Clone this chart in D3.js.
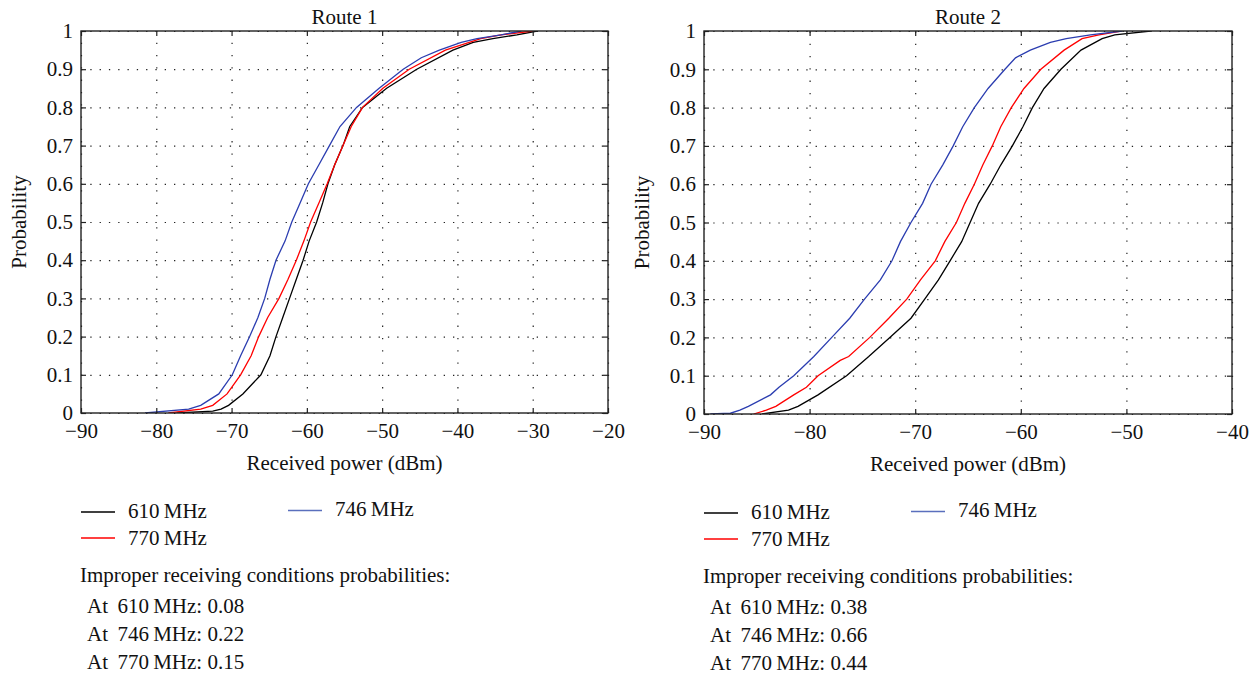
<!DOCTYPE html>
<html>
<head>
<meta charset="utf-8">
<script src="https://cdn.jsdelivr.net/npm/d3@7"></script>
<style>
  body { margin: 0; background: #fff; }
  svg text { font-family: "Liberation Serif", "DejaVu Serif", serif; fill: #111; }
</style>
</head>
<body>
<svg id="chart" width="1258" height="675"></svg>
<script>
// CDF curves: [received power dBm, probability]
var route1_610 = [[-77.3,0],[-72.5,0.005],[-71.4,0.01],[-70.4,0.02],[-68.5,0.05],[-66.1,0.1],[-64.9,0.15],[-64.1,0.2],[-63.2,0.25],[-62.3,0.3],[-61.4,0.35],[-60.5,0.4],[-59.7,0.45],[-58.7,0.5],[-57.9,0.55],[-57.2,0.6],[-56.3,0.65],[-55.2,0.7],[-54.3,0.75],[-52.6,0.8],[-49.4,0.85],[-45.4,0.9],[-40.6,0.95],[-37.9,0.97],[-35.3,0.98],[-32.1,0.99],[-29.4,1]];
var route1_746 = [[-81.5,0],[-75.7,0.01],[-74.1,0.02],[-71.7,0.05],[-69.9,0.1],[-68.8,0.15],[-67.6,0.2],[-66.5,0.25],[-65.6,0.3],[-64.9,0.35],[-64.1,0.4],[-62.9,0.45],[-62.0,0.5],[-60.9,0.55],[-59.8,0.6],[-58.4,0.65],[-57.0,0.7],[-55.6,0.75],[-53.4,0.8],[-50.4,0.85],[-47.2,0.9],[-44.8,0.93],[-42.4,0.95],[-39.5,0.97],[-37.4,0.98],[-34.2,0.99],[-31.5,1]];
var route1_770 = [[-78.4,0],[-74.1,0.01],[-72.5,0.02],[-70.6,0.05],[-68.8,0.1],[-67.4,0.15],[-66.4,0.2],[-65.2,0.25],[-63.7,0.3],[-62.5,0.35],[-61.4,0.4],[-60.4,0.45],[-59.5,0.5],[-58.4,0.55],[-57.3,0.6],[-56.3,0.65],[-55.2,0.7],[-54.1,0.75],[-52.6,0.8],[-49.9,0.85],[-46.4,0.9],[-41.6,0.95],[-36.9,0.98],[-34.2,0.99],[-30.0,1]];

var route2_610 = [[-84.5,0],[-82.0,0.01],[-81.1,0.02],[-79.2,0.05],[-76.5,0.1],[-74.4,0.15],[-72.4,0.2],[-70.4,0.25],[-69.1,0.3],[-67.8,0.35],[-66.7,0.4],[-65.6,0.45],[-64.8,0.5],[-64.0,0.55],[-62.9,0.6],[-61.9,0.65],[-60.8,0.7],[-59.8,0.75],[-58.9,0.8],[-57.8,0.85],[-56.2,0.9],[-54.3,0.95],[-52.3,0.98],[-51.1,0.99],[-47.7,1]];
var route2_746 = [[-89.4,0],[-87.5,0.002],[-86.6,0.01],[-85.8,0.02],[-83.7,0.05],[-82.9,0.07],[-81.5,0.1],[-79.6,0.15],[-77.9,0.2],[-76.2,0.25],[-74.8,0.3],[-73.3,0.35],[-72.2,0.4],[-71.4,0.45],[-70.4,0.5],[-69.3,0.55],[-68.5,0.6],[-67.4,0.65],[-66.4,0.7],[-65.5,0.75],[-64.4,0.8],[-63.1,0.85],[-61.5,0.9],[-60.5,0.93],[-59.1,0.95],[-57.2,0.97],[-55.7,0.98],[-53.4,0.99],[-50.4,1]];
var route2_770 = [[-85.3,0],[-84.1,0.01],[-83.2,0.02],[-81.5,0.05],[-80.3,0.07],[-79.2,0.1],[-77.1,0.14],[-76.3,0.15],[-74.3,0.2],[-72.5,0.25],[-70.8,0.3],[-69.5,0.35],[-68.1,0.4],[-67.2,0.45],[-66.1,0.5],[-65.3,0.55],[-64.4,0.6],[-63.6,0.65],[-62.7,0.7],[-61.9,0.75],[-60.9,0.8],[-59.7,0.85],[-58.1,0.9],[-55.9,0.95],[-54.2,0.98],[-52.6,0.99],[-50.5,1]];

var legendLabels = ['610\u2009MHz', '770\u2009MHz', '746\u2009MHz'];
var probFreqs = ['610', '746', '770'];
var improper1 = [0.08, 0.22, 0.15];
var improper2 = [0.38, 0.66, 0.44];
var yTicks = [0, 0.1, 0.2, 0.3, 0.4, 0.5, 0.6, 0.7, 0.8, 0.9, 1];

var colors = { k: '#000000', r: '#ff0000', b: '#2b3db0', bLegend: '#5a6fbd' };
var fs = 21;

var svg = d3.select('#chart');

function drawPanel(p) {
    var w = p.right - p.left, h = p.bottom - p.top;
    var x = d3.scaleLinear().domain(p.xDomain).range([0, w]);
    var y = d3.scaleLinear().domain([0, 1]).range([h, 0]);

    var g = svg.append('g').attr('transform', `translate(${p.left},${p.top})`);

    // сетка
    g.append('g').attr('class', 'grid')
        .attr('transform', `translate(0,${h})`)
        .call(d3.axisBottom(x).ticks(p.xTicks).tickSize(-h).tickFormat(''))
        .call(s => s.select('.domain').remove())
        .selectAll('line').attr('stroke', '#222').attr('stroke-width', 1.2).attr('stroke-dasharray', '1.3,11');
    g.append('g').attr('class', 'grid')
        .call(d3.axisLeft(y).tickValues(yTicks).tickSize(-w).tickFormat(''))
        .call(s => s.select('.domain').remove())
        .selectAll('line').attr('stroke', '#222').attr('stroke-width', 1.2).attr('stroke-dasharray', '1.3,8');

    // кривые
    var clipId = 'clip' + p.left;
    g.append('clipPath').attr('id', clipId).append('rect').attr('width', w).attr('height', h);
    var line = d3.line().x(d => x(d[0])).y(d => y(d[1]));
    p.series.forEach(s => {
        g.append('path').datum(s.data)
            .attr('clip-path', `url(#${clipId})`)
            .attr('fill', 'none').attr('stroke', s.color).attr('stroke-width', 1.3)
            .attr('d', line);
    });

    // оси с внутренними рисками со всех сторон
    var fmtY = d => d === 0 ? '0' : d === 1 ? '1' : d3.format('.1f')(d);
    var ax = g.append('g').attr('transform', `translate(0,${h})`)
        .call(d3.axisBottom(x).ticks(p.xTicks).tickSize(-5).tickPadding(11));
    var ay = g.append('g')
        .call(d3.axisLeft(y).tickValues(yTicks).tickSize(-5).tickPadding(8).tickFormat(fmtY));
    g.append('g').call(d3.axisTop(x).ticks(p.xTicks).tickSize(-5).tickFormat(''));
    g.append('g').attr('transform', `translate(${w},0)`)
        .call(d3.axisRight(y).tickValues(yTicks).tickSize(-5).tickFormat(''));
    g.selectAll('.domain').remove();
    g.selectAll('.tick line').filter(function () { return this.parentNode.parentNode.getAttribute('class') !== 'grid'; })
        .attr('stroke', '#222').attr('stroke-width', 1.2);
    [ax, ay].forEach(a => a.selectAll('text').attr('font-size', fs).attr('font-family', '"Liberation Serif"').attr('fill', '#111'));
    ax.selectAll('text').attr('dy', '0.68em');

    g.append('rect').attr('width', w).attr('height', h)
        .attr('fill', 'none').attr('stroke', '#222').attr('stroke-width', 1.4);

    // подписи
    g.append('text').attr('x', w / 2).attr('y', -7).attr('text-anchor', 'middle')
        .attr('font-size', fs).text(p.title);
    g.append('text').attr('x', w / 2).attr('y', h + 57).attr('text-anchor', 'middle')
        .attr('font-size', fs).text('Received power (dBm)');
    g.append('text').attr('transform', `translate(-55,${h / 2}) rotate(-90)`)
        .attr('text-anchor', 'middle').attr('font-size', fs).text('Probability');

    // легенда
    var lg = svg.append('g').attr('transform', `translate(${p.left},${p.legendTop})`);
    var items = [
        { c: colors.k, t: legendLabels[0], lx: 0, ly: 0, tx: 47, ty: 6 },
        { c: colors.r, t: legendLabels[1], lx: 0, ly: 26, tx: 47, ty: 33 },
        { c: colors.bLegend, t: legendLabels[2], lx: 207, ly: -1.5, tx: 254, ty: 3.5 }
    ];
    items.forEach(it => {
        lg.append('line').attr('x1', it.lx).attr('x2', it.lx + 34).attr('y1', it.ly).attr('y2', it.ly)
            .attr('stroke', it.c).attr('stroke-width', 1.4);
        lg.append('text').attr('x', it.tx).attr('y', it.ty).attr('font-size', fs).text(it.t);
    });
    lg.append('text').attr('x', -1).attr('y', 70).attr('font-size', fs)
        .text('Improper receiving conditions probabilities:');
    p.improper.forEach((v, i) => {
        lg.append('text').attr('x', 6).attr('y', 101 + i * 28.2).attr('font-size', fs)
            .text('At\u00a0\u2009' + probFreqs[i] + '\u2009MHz: ' + v.toFixed(2));
    });
}

drawPanel({
    title: 'Route 1', left: 81, right: 608, top: 31, bottom: 413,
    xDomain: [-90, -20], xTicks: 7, legendTop: 512, improper: improper1,
    series: [
        { data: route1_610, color: colors.k },
        { data: route1_770, color: colors.r },
        { data: route1_746, color: colors.b }
    ]
});
drawPanel({
    title: 'Route 2', left: 704, right: 1232, top: 31, bottom: 414,
    xDomain: [-90, -40], xTicks: 5, legendTop: 513, improper: improper2,
    series: [
        { data: route2_610, color: colors.k },
        { data: route2_770, color: colors.r },
        { data: route2_746, color: colors.b }
    ]
});
</script>
</body>
</html>
